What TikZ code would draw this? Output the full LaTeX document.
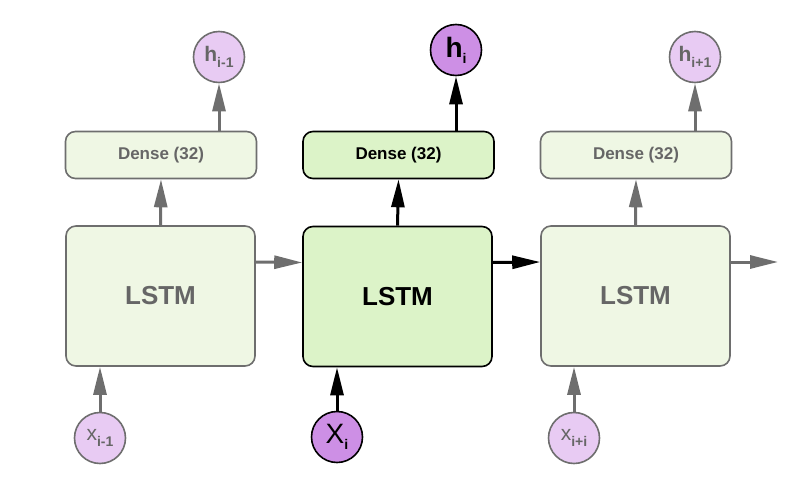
\documentclass[tikz,border=0pt]{standalone}
\usepackage{fontspec}
\setmainfont{Liberation Sans}
\usetikzlibrary{arrows.meta}
\newcommand{\etiq}[3]{{\fontsize{#1}{#1}\selectfont #2}\raisebox{-6pt}{\fontsize{14}{14}\selectfont\bfseries #3}}

\begin{document}
\begin{tikzpicture}[x=1pt,y=-1pt,
    caja/.style={draw,rounded corners=10pt,line width=1.6pt},
    celda/.style={caja,minimum width=189pt,minimum height=140pt,font=\fontsize{26}{26}\selectfont\bfseries},
    capa/.style={caja,minimum width=191pt,minimum height=47pt,font=\fontsize{17}{17}\selectfont\bfseries},
    bola/.style={circle,draw,line width=1.6pt,minimum size=51pt,inner sep=0pt},
    tenue/.style={draw=gris,text=grisT},
    flecha/.style={line width=3pt,-{Triangle[length=28pt,width=13pt]}}]
        %colores
        \definecolor{verde}{HTML}{DCF3C8}
        \definecolor{verdeT}{HTML}{EFF7E4}
        \definecolor{lila}{HTML}{CD8FE5}
        \definecolor{lilaT}{HTML}{E8CBF3}
        \definecolor{gris}{HTML}{6E6E6E}
        \definecolor{grisT}{HTML}{666666}

        \useasboundingbox (0,0) rectangle (805,500);

        % celdas LSTM
        \node[celda,fill=verdeT,tenue] (lstm1) at (160.5,296) {LSTM};
        \node[celda,fill=verde] (lstm2) at (397.5,296.5) {LSTM};
        \node[celda,fill=verdeT,tenue] (lstm3) at (635.5,296) {LSTM};

        % capas densas
        \node[capa,fill=verdeT,tenue] (dense1) at (161,155) {Dense (32)};
        \node[capa,fill=verde] (dense2) at (398.5,155) {Dense (32)};
        \node[capa,fill=verdeT,tenue] (dense3) at (636,155) {Dense (32)};

        % salidas h
        \node[bola,fill=lilaT,tenue] (h1) at (219,57) {\etiq{21}{\bfseries h}{i-1}};
        \node[bola,fill=lila] (h2) at (456,50) {\etiq{28}{\bfseries h}{i}};
        \node[bola,fill=lilaT,tenue] (h3) at (695,57) {\etiq{21}{\bfseries h}{i+1}};

        % entradas x
        \node[bola,fill=lilaT,tenue] (x1) at (100,438) {\etiq{21}{x}{i-1}};
        \node[bola,fill=lila] (x2) at (337,437) {\etiq{28}{X}{i}};
        \node[bola,fill=lilaT,tenue] (x3) at (574,438) {\etiq{21}{x}{i+i}};
        \coordinate (salida) at (778,262);

        % flechas
        \foreach \n/\col in {1/gris, 2/black, 3/gris}
        {
            \draw[flecha,\col] (lstm\n.north) -- (dense\n.south);
            \draw[flecha,\col] (dense\n.north -| h\n) -- (h\n);
            \draw[flecha,\col] (x\n) -- (x\n |- lstm\n.south);
        }
        \draw[flecha,gris] ([yshift=34pt]lstm1.east) -- ([yshift=34pt]lstm2.west);
        \draw[flecha,black] ([yshift=34pt]lstm2.east) -- ([yshift=34pt]lstm3.west);
        \draw[flecha,gris] ([yshift=34pt]lstm3.east) -- (salida);
    \end{tikzpicture}
\end{document}
